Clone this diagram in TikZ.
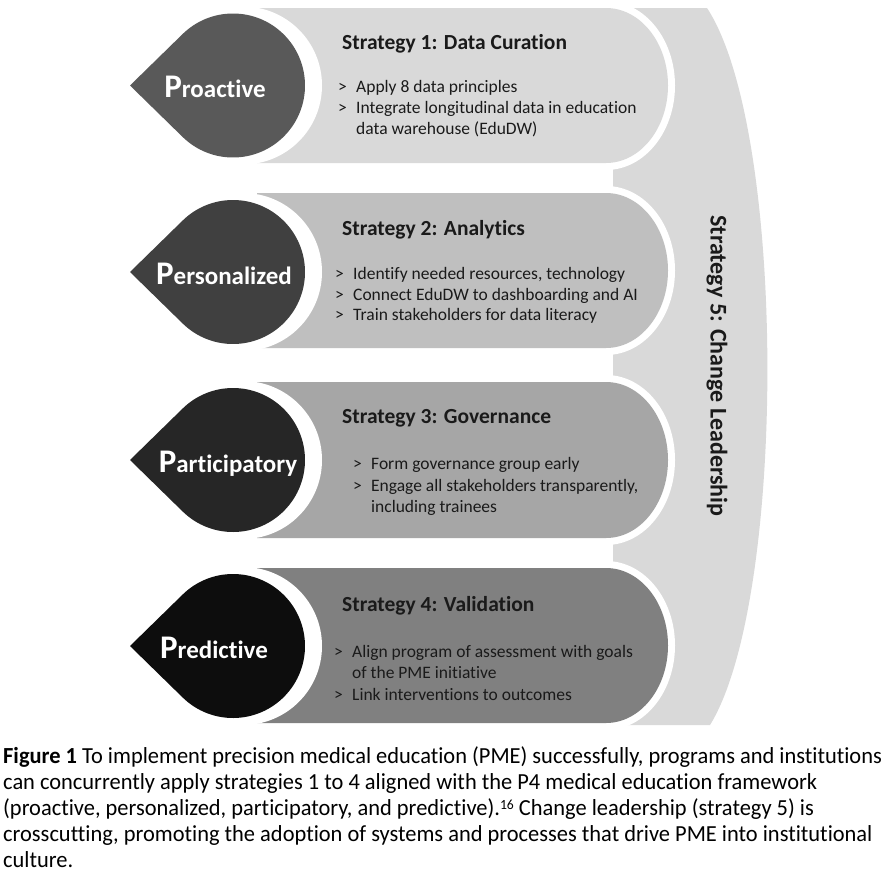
\documentclass[tikz,border=0pt]{standalone}
\usepackage{fontspec}
\setmainfont{Carlito}[Ligatures=CommonOff]
\newfontfamily\capfont[FakeStretch=0.975,Ligatures=CommonOff]{Carlito}
\definecolor{bandA}{HTML}{D9D9D9}
\definecolor{bandB}{HTML}{BFBFBF}
\definecolor{bandC}{HTML}{A6A6A6}
\definecolor{bandD}{HTML}{808080}
\definecolor{leafA}{HTML}{595959}
\definecolor{leafB}{HTML}{404040}
\definecolor{leafC}{HTML}{262626}
\definecolor{leafD}{HTML}{0D0D0D}
\definecolor{sfive}{HTML}{D9D9D9}
\definecolor{ink}{HTML}{1A1A1A}
\newcommand\itm{\makebox[18pt][l]{>}}
\newcommand\cnt{\hspace*{18pt}}
\begin{document}
\begin{tikzpicture}[x=1pt,y=-1pt,
  titletext/.style={anchor=base west,inner sep=0pt,text=ink,font=\fontsize{21.5}{24}\selectfont\bfseries},
  itemtext/.style={anchor=base west,inner sep=0pt,text=ink,font=\fontsize{17.5}{20}\selectfont},
  leaftext/.style={anchor=base,inner sep=0pt,text=white,font=\fontsize{25}{28}\selectfont\bfseries},
  captext/.style={anchor=base west,inner sep=0pt,text=black,font=\fontsize{23}{26}\capfont}]
\useasboundingbox (0,0) rectangle (896,878);
\fill[white] (0,0) rectangle (896,878);
% strategy 5 body
\fill[sfive] (613,8) -- (707,8) .. controls (787,130) and (787,600) .. (710,725) -- (613,725) -- cycle;
% bands
\foreach \t/\b/\c in {8/163/bandA,193/348/bandB,382/538/bandC,568/723/bandD}{
  \pgfmathsetmacro\r{(\b-\t)/2}
  \draw[white,line width=14pt,line join=round] (257,\t) -- (606,\t) arc[start angle=-90,end angle=90,x radius=62,y radius=\r] -- (257,\b) -- cycle;
  \fill[\c] (257,\t) -- (606,\t) arc[start angle=-90,end angle=90,x radius=62,y radius=\r] -- (257,\b) -- cycle;
}
% leaves
\foreach \cy/\c in {85.5/leafA,272/leafB,460/leafC,646/leafD}{
  \fill[white] (243,\cy) circle[radius=79];
  \fill[\c] (130,\cy) -- ([shift={(134.4:72)}]233,\cy) arc[start angle=134.4,end angle=-134.4,radius=72] -- cycle;
}
% leaf labels
\node[leaftext] (p1) at (215,97) {{\fontsize{33}{33}\selectfont P}roactive};
\node[leaftext] (p2) at (224,284) {{\fontsize{33}{33}\selectfont P}ersonalized};
\node[leaftext] (p3) at (228,472) {{\fontsize{33}{33}\selectfont P}articipatory};
\node[leaftext] (p4) at (214,658) {{\fontsize{33}{33}\selectfont P}redictive};
% strategy 1
\node[titletext] (t1) at (342,49) {Strategy 1: Data Curation};
\node[itemtext] (i11) at (338,92) {\itm Apply 8 data principles};
\node[itemtext] (i12) at (338,113) {\itm Integrate longitudinal data in education};
\node[itemtext] (i13) at (338,134) {\cnt data warehouse (EduDW)};
% strategy 2
\node[titletext] (t2) at (342,235) {Strategy 2: Analytics};
\node[itemtext] (i21) at (335,279) {\itm Identify needed resources, technology};
\node[itemtext] (i22) at (335,300) {\itm Connect EduDW to dashboarding and AI};
\node[itemtext] (i23) at (335,320) {\itm Train stakeholders for data literacy};
% strategy 3
\node[titletext] (t3) at (342,423) {Strategy 3: Governance};
\node[itemtext] (i31) at (353,469) {\itm Form governance group early};
\node[itemtext] (i32) at (353,491) {\itm Engage all stakeholders transparently,};
\node[itemtext] (i33) at (353,512) {\cnt including trainees};
% strategy 4
\node[titletext] (t4) at (342,611) {Strategy 4: Validation};
\node[itemtext] (i41) at (334,657) {\itm Align program of assessment with goals};
\node[itemtext] (i42) at (334,678) {\cnt of the PME initiative};
\node[itemtext] (i43) at (334,700) {\itm Link interventions to outcomes};
% strategy 5
\node[rotate=-90,inner sep=0pt,text=ink,font=\fontsize{24}{28}\selectfont\bfseries] (s5) at (717,366) {Strategy 5: Change Leadership};
% caption
\node[captext] (c1) at (3,763) {\textbf{Figure 1} To implement precision medical education (PME) successfully, programs and institutions};
\node[captext] (c2) at (3,789) {can concurrently apply strategies 1 to 4 aligned with the P4 medical education framework};
\node[captext] (c3) at (3,815) {(proactive, personalized, participatory, and predictive).{\fontsize{14}{14}\selectfont\raisebox{6pt}{16}} Change leadership (strategy 5) is};
\node[captext] (c4) at (3,841) {crosscutting, promoting the adoption of systems and processes that drive PME into institutional};
\node[captext] (c5) at (3,867) {culture.};
\end{tikzpicture}
\end{document}
